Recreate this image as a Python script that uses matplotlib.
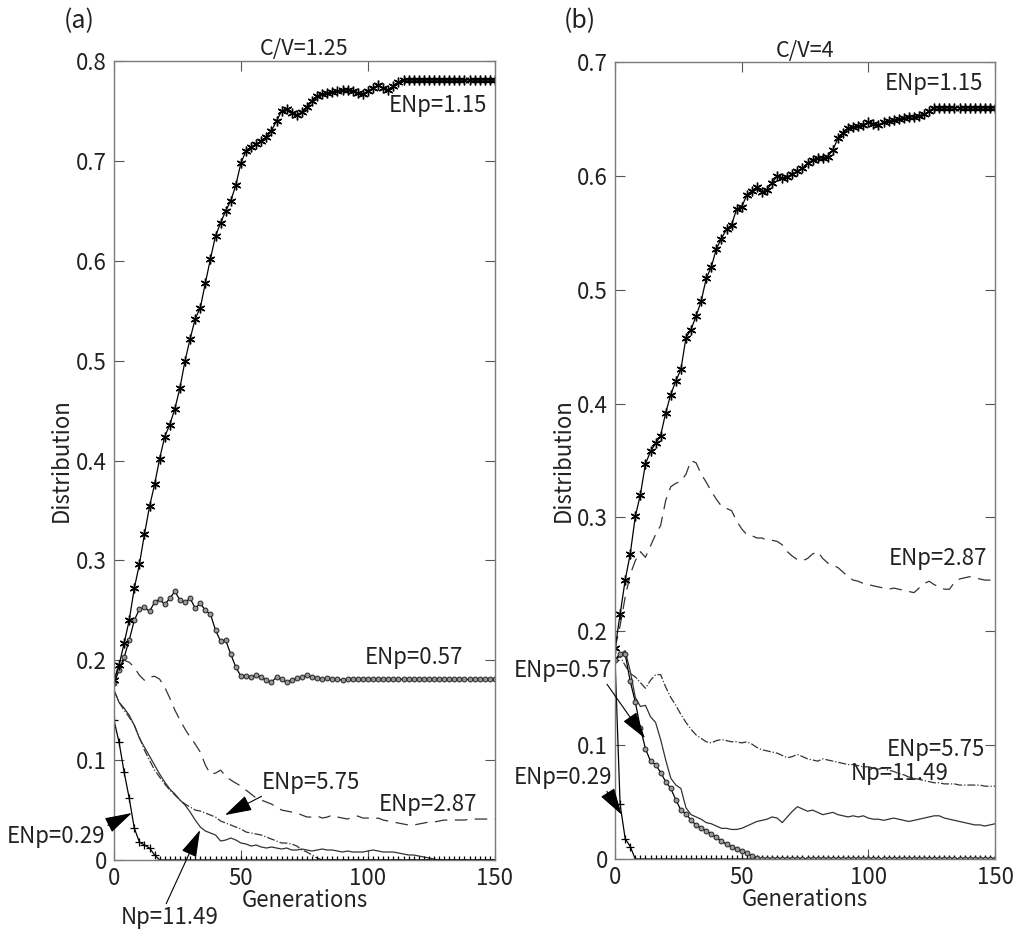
# Distribution of ENp types over generations, C/V=1.25 and C/V=4
import matplotlib
matplotlib.use("Agg")
import matplotlib.pyplot as plt
from matplotlib.ticker import FuncFormatter

plt.rcParams['font.family'] = ['Noto Sans CJK JP', 'DejaVu Sans']

# generation index (values read every 2 generations)
gen = list(range(0, 151, 2))

# ---- panel (a), C/V=1.25 ----
a_115 = [0.180, 0.195, 0.217, 0.240, 0.272, 0.296, 0.326, 0.354, 0.376, 0.402,
         0.424, 0.436, 0.452, 0.473, 0.500, 0.522, 0.542, 0.553, 0.578, 0.602,
         0.625, 0.638, 0.650, 0.660, 0.676, 0.698, 0.710, 0.714, 0.717, 0.720,
         0.724, 0.730, 0.740, 0.750, 0.752, 0.748, 0.746, 0.749, 0.754, 0.760,
         0.765, 0.767, 0.768, 0.769, 0.770, 0.771, 0.771, 0.770, 0.768, 0.767,
         0.770, 0.773, 0.776, 0.773, 0.771, 0.775, 0.779, 0.781, 0.781, 0.781,
         0.781, 0.781, 0.781, 0.781, 0.781, 0.781, 0.781, 0.781, 0.781, 0.781,
         0.781, 0.781, 0.781, 0.781, 0.781, 0.781]
a_057 = [0.177, 0.190, 0.203, 0.220, 0.240, 0.251, 0.253, 0.249, 0.258, 0.261,
         0.256, 0.262, 0.269, 0.260, 0.258, 0.262, 0.252, 0.257, 0.250, 0.246,
         0.230, 0.219, 0.220, 0.206, 0.193, 0.184, 0.184, 0.183, 0.185, 0.183,
         0.180, 0.178, 0.183, 0.181, 0.178, 0.180, 0.182, 0.183, 0.185, 0.183,
         0.182, 0.181, 0.182, 0.181, 0.181, 0.180, 0.181, 0.181, 0.181, 0.181,
         0.181, 0.181, 0.181, 0.181, 0.181, 0.181, 0.181, 0.181, 0.181, 0.181,
         0.181, 0.181, 0.181, 0.181, 0.181, 0.181, 0.181, 0.181, 0.181, 0.181,
         0.181, 0.181, 0.181, 0.181, 0.181, 0.181]
a_029 = [0.140, 0.118, 0.088, 0.062, 0.032, 0.018, 0.015, 0.012, 0.005, 0.0,
         0.0, 0.0, 0.0, 0.0, 0.0, 0.0, 0.0, 0.0, 0.0, 0.0,
         0.0, 0.0, 0.0, 0.0, 0.0, 0.0, 0.0, 0.0, 0.0, 0.0,
         0.0, 0.0, 0.0, 0.0, 0.0, 0.0, 0.0, 0.0, 0.0, 0.0,
         0.0, 0.0, 0.0, 0.0, 0.0, 0.0, 0.0, 0.0, 0.0, 0.0,
         0.0, 0.0, 0.0, 0.0, 0.0, 0.0, 0.0, 0.0, 0.0, 0.0,
         0.0, 0.0, 0.0, 0.0, 0.0, 0.0, 0.0, 0.0, 0.0, 0.0,
         0.0, 0.0, 0.0, 0.0, 0.0, 0.0]
a_287 = [0.180, 0.195, 0.200, 0.198, 0.193, 0.185, 0.180, 0.183, 0.184, 0.181,
         0.173, 0.162, 0.150, 0.140, 0.131, 0.123, 0.116, 0.108, 0.095, 0.086,
         0.087, 0.090, 0.084, 0.080, 0.077, 0.074, 0.070, 0.066, 0.062, 0.060,
         0.058, 0.056, 0.053, 0.050, 0.049, 0.048, 0.047, 0.045, 0.043, 0.043,
         0.044, 0.042, 0.043, 0.045, 0.043, 0.042, 0.041, 0.043, 0.044, 0.042,
         0.042, 0.041, 0.042, 0.040, 0.039, 0.038, 0.037, 0.036, 0.035, 0.035,
         0.036, 0.037, 0.038, 0.038, 0.039, 0.040, 0.040, 0.040, 0.040, 0.040,
         0.041, 0.041, 0.041, 0.041, 0.041, 0.041]
a_575 = [0.170, 0.158, 0.150, 0.143, 0.135, 0.123, 0.110, 0.100, 0.090, 0.083,
         0.076, 0.070, 0.065, 0.060, 0.056, 0.053, 0.050, 0.049, 0.047, 0.045,
         0.043, 0.039, 0.037, 0.035, 0.033, 0.031, 0.028, 0.027, 0.026, 0.025,
         0.023, 0.021, 0.019, 0.017, 0.017, 0.016, 0.014, 0.010, 0.008, 0.005,
         0.002, 0.0, 0.0, 0.0, 0.0, 0.0, 0.0, 0.0, 0.0, 0.0,
         0.0, 0.0, 0.0, 0.0, 0.0, 0.0, 0.0, 0.0, 0.0, 0.0,
         0.0, 0.0, 0.0, 0.0, 0.0, 0.0, 0.0, 0.0, 0.0, 0.0,
         0.0, 0.0, 0.0, 0.0, 0.0, 0.0]
a_1149 = [0.170, 0.158, 0.152, 0.145, 0.135, 0.122, 0.113, 0.104, 0.095, 0.086,
          0.078, 0.071, 0.066, 0.060, 0.055, 0.048, 0.040, 0.033, 0.029, 0.027,
          0.025, 0.019, 0.020, 0.022, 0.020, 0.017, 0.016, 0.014, 0.015, 0.013,
          0.012, 0.013, 0.012, 0.011, 0.012, 0.010, 0.010, 0.011, 0.010, 0.009,
          0.010, 0.011, 0.010, 0.010, 0.009, 0.008, 0.009, 0.008, 0.008, 0.008,
          0.009, 0.010, 0.009, 0.008, 0.008, 0.008, 0.007, 0.006, 0.005, 0.005,
          0.004, 0.003, 0.002, 0.001, 0.0, 0.0, 0.0, 0.0, 0.0, 0.0,
          0.0, 0.0, 0.0, 0.0, 0.0, 0.0]

# ---- panel (b), C/V=4 ----
b_115 = [0.185, 0.215, 0.245, 0.268, 0.301, 0.320, 0.347, 0.358, 0.365, 0.372,
         0.392, 0.408, 0.420, 0.430, 0.458, 0.465, 0.477, 0.490, 0.510, 0.520,
         0.536, 0.545, 0.553, 0.557, 0.571, 0.573, 0.583, 0.587, 0.590, 0.586,
         0.588, 0.594, 0.600, 0.598, 0.599, 0.602, 0.604, 0.607, 0.611, 0.614,
         0.616, 0.616, 0.617, 0.623, 0.633, 0.638, 0.642, 0.643, 0.644, 0.645,
         0.647, 0.646, 0.645, 0.647, 0.648, 0.649, 0.650, 0.651, 0.652, 0.652,
         0.653, 0.654, 0.657, 0.660, 0.660, 0.660, 0.660, 0.660, 0.660, 0.660,
         0.660, 0.660, 0.660, 0.660, 0.660, 0.660]
b_287 = [0.185, 0.205, 0.230, 0.250, 0.262, 0.270, 0.265, 0.275, 0.285, 0.293,
         0.315, 0.327, 0.330, 0.332, 0.338, 0.350, 0.348, 0.338, 0.331, 0.323,
         0.316, 0.310, 0.308, 0.306, 0.297, 0.290, 0.285, 0.284, 0.282, 0.282,
         0.280, 0.280, 0.279, 0.276, 0.270, 0.266, 0.263, 0.262, 0.264, 0.268,
         0.270, 0.264, 0.260, 0.258, 0.256, 0.252, 0.248, 0.245, 0.244, 0.242,
         0.241, 0.240, 0.239, 0.238, 0.237, 0.238, 0.237, 0.236, 0.235, 0.234,
         0.238, 0.242, 0.244, 0.241, 0.239, 0.237, 0.237, 0.243, 0.246, 0.247,
         0.248, 0.247, 0.246, 0.245, 0.245, 0.245]
b_575 = [0.175, 0.178, 0.170, 0.163, 0.160, 0.155, 0.150, 0.157, 0.162, 0.162,
         0.151, 0.142, 0.135, 0.127, 0.120, 0.114, 0.109, 0.106, 0.103, 0.102,
         0.104, 0.105, 0.104, 0.103, 0.103, 0.102, 0.103, 0.101, 0.098, 0.096,
         0.095, 0.094, 0.093, 0.091, 0.089, 0.090, 0.092, 0.090, 0.088, 0.087,
         0.086, 0.088, 0.087, 0.086, 0.085, 0.084, 0.083, 0.083, 0.082, 0.081,
         0.081, 0.080, 0.079, 0.080, 0.078, 0.077, 0.075, 0.074, 0.072, 0.071,
         0.070, 0.069, 0.068, 0.067, 0.067, 0.066, 0.066, 0.066, 0.065, 0.065,
         0.065, 0.065, 0.065, 0.064, 0.064, 0.064]
b_1149 = [0.175, 0.180, 0.183, 0.165, 0.142, 0.134, 0.135, 0.125, 0.120, 0.105,
          0.087, 0.071, 0.065, 0.062, 0.045, 0.039, 0.037, 0.035, 0.032, 0.031,
          0.029, 0.027, 0.027, 0.026, 0.026, 0.027, 0.029, 0.031, 0.033, 0.034,
          0.035, 0.037, 0.036, 0.032, 0.037, 0.042, 0.046, 0.044, 0.042, 0.043,
          0.041, 0.039, 0.040, 0.041, 0.039, 0.038, 0.037, 0.038, 0.037, 0.038,
          0.036, 0.035, 0.035, 0.034, 0.035, 0.036, 0.035, 0.034, 0.033, 0.034,
          0.035, 0.036, 0.037, 0.038, 0.038, 0.036, 0.035, 0.034, 0.033, 0.032,
          0.031, 0.030, 0.030, 0.029, 0.030, 0.031]
b_057 = [0.175, 0.180, 0.180, 0.156, 0.138, 0.115, 0.097, 0.086, 0.083, 0.076,
         0.068, 0.062, 0.052, 0.043, 0.040, 0.034, 0.030, 0.027, 0.025, 0.022,
         0.019, 0.016, 0.013, 0.011, 0.009, 0.007, 0.005, 0.003, 0.001, 0.0,
         0.0, 0.0, 0.0, 0.0, 0.0, 0.0, 0.0, 0.0, 0.0, 0.0,
         0.0, 0.0, 0.0, 0.0, 0.0, 0.0, 0.0, 0.0, 0.0, 0.0,
         0.0, 0.0, 0.0, 0.0, 0.0, 0.0, 0.0, 0.0, 0.0, 0.0,
         0.0, 0.0, 0.0, 0.0, 0.0, 0.0, 0.0, 0.0, 0.0, 0.0,
         0.0, 0.0, 0.0, 0.0, 0.0, 0.0]
b_029 = [0.175, 0.048, 0.018, 0.011, 0.0, 0.0, 0.0, 0.0, 0.0, 0.0,
         0.0, 0.0, 0.0, 0.0, 0.0, 0.0, 0.0, 0.0, 0.0, 0.0,
         0.0, 0.0, 0.0, 0.0, 0.0, 0.0, 0.0, 0.0, 0.0, 0.0,
         0.0, 0.0, 0.0, 0.0, 0.0, 0.0, 0.0, 0.0, 0.0, 0.0,
         0.0, 0.0, 0.0, 0.0, 0.0, 0.0, 0.0, 0.0, 0.0, 0.0,
         0.0, 0.0, 0.0, 0.0, 0.0, 0.0, 0.0, 0.0, 0.0, 0.0,
         0.0, 0.0, 0.0, 0.0, 0.0, 0.0, 0.0, 0.0, 0.0, 0.0,
         0.0, 0.0, 0.0, 0.0, 0.0, 0.0]

AST = (6, 2, 0)  # matlab-like asterisk
TXT = '#222222'
SPINE = '#7a7a7a'
FS = 16


def arrow(rel=(0.5, 0.5)):
    return dict(arrowstyle='-|>,head_length=0.85,head_width=0.25',
                color='black', lw=0.8, relpos=rel, shrinkA=0, shrinkB=0,
                mutation_scale=20)


def draw(ax, s115, s057, s029, s287, s575, s1149, ymax, title):
    ax.plot(gen, s1149, '-', color='#333333', lw=0.9)
    ax.plot(gen, s575, '-.', color='#333333', lw=0.9)
    ax.plot(gen, s287, color='#333333', lw=0.9, dashes=(10, 6))
    ax.plot(gen, s029, '-', color='k', lw=0.9, marker='+', ms=6, mew=0.9)
    ax.plot(gen, s057, '-', color='k', lw=0.9, marker='o', ms=3.5,
            mfc='#999999', mec='#222222', mew=0.7)
    ax.plot(gen, s115, '-', color='k', lw=0.9, marker=AST, ms=7, mew=1.0)
    ax.set_xlim(0, 150)
    ax.set_ylim(0, ymax)
    ax.set_xticks([0, 50, 100, 150])
    ax.set_yticks([i / 10 for i in range(int(round(ymax * 10)) + 1)])
    ax.yaxis.set_major_formatter(FuncFormatter(lambda v, p: f'{v:g}'))
    ax.tick_params(direction='in', top=True, right=True, length=7,
                   width=0.8, color='#555555', labelsize=FS,
                   labelcolor=TXT, pad=5)
    for sp in ax.spines.values():
        sp.set_color(SPINE)
        sp.set_linewidth(1.0)
    ax.set_title(title, fontsize=FS - 0.5, color=TXT, pad=4)
    ax.set_xlabel('Generations', fontsize=FS, color=TXT, labelpad=-1)
    ax.set_ylabel('Distribution', fontsize=FS, color=TXT, labelpad=2)


fig = plt.figure(figsize=(10.22, 9.36), dpi=100)
ax1 = fig.add_axes([0.1115, 0.0812, 0.3728, 0.8536])
ax2 = fig.add_axes([0.6018, 0.0822, 0.3718, 0.8515])

draw(ax1, a_115, a_057, a_029, a_287, a_575, a_1149, 0.8, 'C/V=1.25')
draw(ax2, b_115, b_057, b_029, b_287, b_575, b_1149, 0.7, 'C/V=4')

kw = dict(fontsize=FS, color=TXT)
# panel (a) labels
ax1.text(147, 0.755, 'ENp=1.15', ha='right', va='center', **kw)
ax1.text(137.5, 0.203, 'ENp=0.57', ha='right', va='center', **kw)
ax1.text(143, 0.056, 'ENp=2.87', ha='right', va='center', **kw)
ax1.annotate('ENp=5.75', xy=(43.7, 0.045), xytext=(58.3, 0.078),
             ha='left', va='center', arrowprops=arrow((0.05, 0.0)), **kw)
ax1.annotate('ENp=0.29', xy=(7.0, 0.047), xytext=(-3.5, 0.024),
             ha='right', va='center', annotation_clip=False,
             arrowprops=arrow((1.0, 0.9)), **kw)
ax1.annotate('Np=11.49', xy=(33.9, 0.030), xytext=(22.0, -0.058),
             ha='center', va='center', annotation_clip=False,
             arrowprops=arrow((0.45, 1.0)), **kw)

# panel (b) labels
ax2.text(145.5, 0.681, 'ENp=1.15', ha='right', va='center', **kw)
ax2.text(147, 0.264, 'ENp=2.87', ha='right', va='center', **kw)
ax2.text(146, 0.096, 'ENp=5.75', ha='right', va='center', **kw)
ax2.text(131.5, 0.075, 'Np=11.49', ha='right', va='center', **kw)
ax2.annotate('ENp=0.57', xy=(11.8, 0.106), xytext=(-1.2, 0.166),
             ha='right', va='center', annotation_clip=False,
             arrowprops=arrow((0.93, 0.0)), **kw)
ax2.annotate('ENp=0.29', xy=(2.6, 0.039), xytext=(-1.2, 0.072),
             ha='right', va='center', annotation_clip=False,
             arrowprops=arrow((0.93, 0.0)), **kw)

fig.text(0.062, 0.978, '(a)', fontsize=18, color=TXT, va='center')
fig.text(0.552, 0.978, '(b)', fontsize=18, color=TXT, va='center')

fig.savefig('out.png', dpi=100)
